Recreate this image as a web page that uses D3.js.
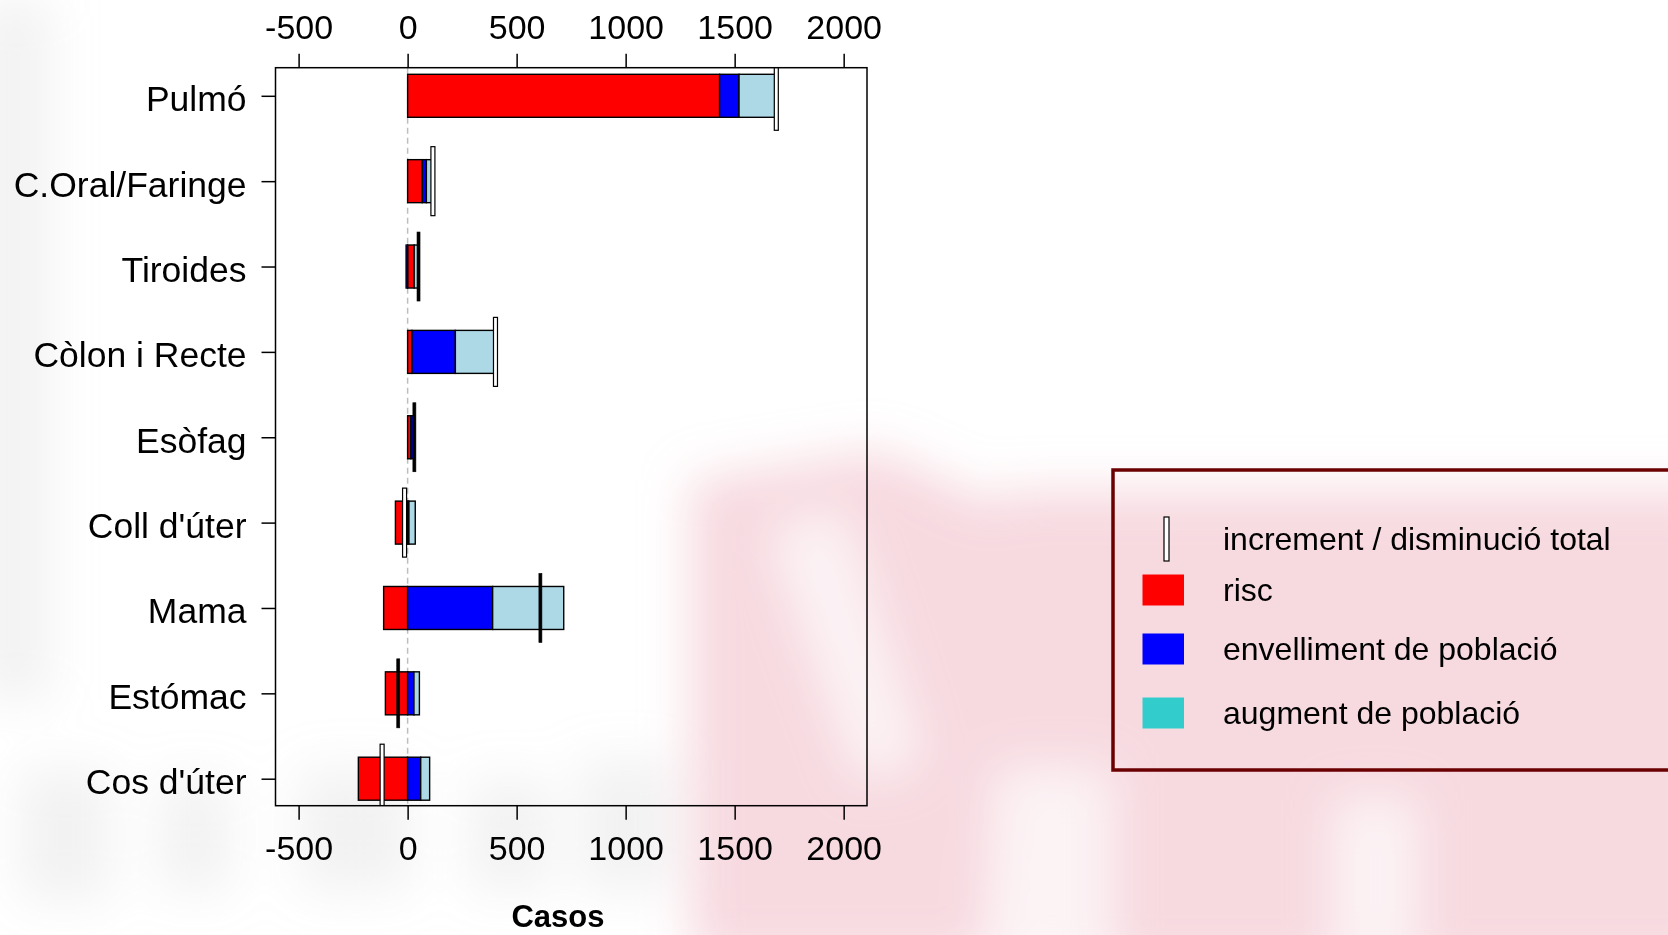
<!DOCTYPE html>
<html>
<head>
<meta charset="utf-8">
<script src="https://cdn.jsdelivr.net/npm/d3@7"></script>
<style>
  body { margin: 0; background: #fff; }
  text { font-family: "Liberation Sans", Arial, sans-serif; fill: #000; }
</style>
</head>
<body>
<svg id="chart"></svg>
<script>
// data
const categories = ["Pulmó", "C.Oral/Faringe", "Tiroides", "Còlon i Recte", "Esòfag",
                    "Coll d'úter", "Mama", "Estómac", "Cos d'úter"]
const risc        = [1431, 67, 30, 20, 15, -56, -110, -102, -226]
const envelliment = [89, 19, -7, 199, 15, 6, 390, 29, 60]
const augment     = [166, 27, 22, 179, 2, 29, 326, 25, 41]
const total       = [1691, 116, 50, 403, 31, -14, 609, -43, -117]
const totalSolid  = [false, false, true, false, true, false, true, true, false]
const xTicks = [-500, 0, 500, 1000, 1500, 2000]
const legendLabels = ["increment / disminució total", "risc", "envelliment de població", "augment de població"]

const width = 1668, height = 935
const panel = {left: 275.5, right: 867, top: 67.7, bottom: 805.7}

const svg = d3.select("#chart")
    .attr("width", width)
    .attr("height", height)

const defs = svg.append("defs")
defs.append("filter").attr("id", "blur")
    .attr("x", "-30%").attr("y", "-30%").attr("width", "160%").attr("height", "160%")
  .append("feGaussianBlur").attr("stdDeviation", 24)
defs.append("clipPath").attr("id", "panel-clip")
  .append("rect")
    .attr("x", panel.left).attr("y", panel.top)
    .attr("width", panel.right - panel.left).attr("height", panel.bottom - panel.top)

// faded background picture
svg.append("rect").attr("width", width).attr("height", height).attr("fill", "#fff")
const bg = svg.append("g").attr("filter", "url(#blur)")
const pink = bg.append("g").attr("fill", "#f0bcc6").attr("opacity", 0.55)
pink.append("path").attr("d", "M690,480 L880,450 L1010,510 L990,960 L690,960 Z")
pink.append("rect").attr("x", 1000).attr("y", 490).attr("width", 720).attr("height", 480)
const holes = bg.append("g").attr("fill", "#fff").attr("opacity", 0.7)
holes.append("rect").attr("x", 1000).attr("y", 770).attr("width", 110).attr("height", 200)
holes.append("rect").attr("x", 1335).attr("y", 800).attr("width", 80).attr("height", 160)
holes.append("path").attr("d", "M770,530 L840,510 L920,760 L860,780 Z")
const grey = bg.append("g").attr("fill", "#cccccc").attr("opacity", 0.25)
grey.append("rect").attr("x", -20).attr("y", 0).attr("width", 70).attr("height", 700)
grey.append("rect").attr("x", 20).attr("y", 770).attr("width", 90).attr("height", 130)
grey.append("rect").attr("x", 160).attr("y", 780).attr("width", 70).attr("height", 110)
grey.append("rect").attr("x", 300).attr("y", 770).attr("width", 110).attr("height", 120)
grey.append("rect").attr("x", 470).attr("y", 780).attr("width", 80).attr("height", 110)
grey.append("rect").attr("x", 580).attr("y", 760).attr("width", 90).attr("height", 130)

const x = d3.scaleLinear()
    .domain([-606, 2107])
    .range([panel.left, panel.right])

const y = d3.scalePoint()
    .domain(categories)
    .range([95.8, 778.7])

const barH = 43, markH = 69

const rows = categories.map((c, i) => ({
  cat: c, risc: risc[i], envelliment: envelliment[i], augment: augment[i],
  total: total[i], solid: totalSolid[i]
}))

const keys = ["risc", "envelliment", "augment"]
const colors = {risc: "#ff0000", envelliment: "#0000ff", augment: "#add8e6"}

const series = d3.stack()
    .keys(keys)
    .offset(d3.stackOffsetDiverging)(rows)

// zero reference line
svg.append("line")
    .attr("x1", x(0)).attr("x2", x(0))
    .attr("y1", panel.top).attr("y2", panel.bottom)
    .attr("stroke", "#bebebe")
    .attr("stroke-width", 1.5)
    .attr("stroke-dasharray", "6,4")

const plot = svg.append("g").attr("clip-path", "url(#panel-clip)")

plot.selectAll("g.series")
  .data(series)
  .join("g")
    .attr("class", "series")
    .attr("fill", d => colors[d.key])
  .selectAll("rect")
  .data(d => d.filter(s => s[1] !== s[0]))
  .join("rect")
    .attr("x", d => x(Math.min(d[0], d[1])))
    .attr("width", d => Math.abs(x(d[1]) - x(d[0])))
    .attr("y", d => y(d.data.cat) - barH / 2)
    .attr("height", barH)
    .attr("stroke", "#000")
    .attr("stroke-width", 1.4)

// total increase / decrease marker
plot.selectAll("rect.total")
  .data(rows)
  .join("rect")
    .attr("class", "total")
    .attr("x", d => x(d.total) - (d.solid ? 1.5 : 2))
    .attr("width", d => d.solid ? 3 : 4)
    .attr("y", d => y(d.cat) - markH / 2)
    .attr("height", markH)
    .attr("fill", d => d.solid ? "#000" : "#fff")
    .attr("stroke", "#000")
    .attr("stroke-width", d => d.solid ? 0.6 : 1.2)

// panel border
svg.append("rect")
    .attr("x", panel.left).attr("y", panel.top)
    .attr("width", panel.right - panel.left).attr("height", panel.bottom - panel.top)
    .attr("fill", "none")
    .attr("stroke", "#000")
    .attr("stroke-width", 1.5)

// axes
const styleAxis = size => g => {
  g.select(".domain").remove()
  g.selectAll(".tick line").attr("stroke", "#000").attr("stroke-width", 1.5)
  g.selectAll(".tick text").attr("font-size", size).attr("fill", "#000")
    .attr("font-family", "Liberation Sans, Arial, sans-serif")
}

svg.append("g")
    .attr("transform", `translate(0,${panel.top})`)
    .call(d3.axisTop(x).tickValues(xTicks).tickFormat(d => String(d)).tickSize(14).tickPadding(15))
    .call(styleAxis(34))

svg.append("g")
    .attr("transform", `translate(0,${panel.bottom})`)
    .call(d3.axisBottom(x).tickValues(xTicks).tickFormat(d => String(d)).tickSize(14).tickPadding(16))
    .call(styleAxis(34))

svg.append("g")
    .attr("transform", `translate(${panel.left},0)`)
    .call(d3.axisLeft(y).tickSize(14).tickPadding(15))
    .call(styleAxis(35.5))
    .call(g => g.selectAll(".tick text").attr("dy", "0.42em"))

svg.append("text")
    .attr("x", 558)
    .attr("y", 916)
    .attr("text-anchor", "middle")
    .attr("dominant-baseline", "central")
    .attr("font-size", 31)
    .attr("font-weight", "bold")
    .text("Casos")

// legend
const legend = svg.append("g")
legend.append("rect")
    .attr("x", 1113).attr("y", 470)
    .attr("width", 600).attr("height", 300)
    .attr("fill", "none")
    .attr("stroke", "#6b0000")
    .attr("stroke-width", 3.5)

const legendY = [539, 590, 649, 713]
const legendFill = [null, "#ff0000", "#0000ff", "#33cccc"]

legend.append("rect")
    .attr("x", 1164).attr("y", legendY[0] - 22)
    .attr("width", 5).attr("height", 44)
    .attr("fill", "#fff").attr("stroke", "#000").attr("stroke-width", 1.2)

legend.selectAll("rect.key")
  .data(legendFill.slice(1))
  .join("rect")
    .attr("class", "key")
    .attr("x", 1142.5)
    .attr("y", (d, i) => legendY[i + 1] - 15.5)
    .attr("width", 41.5)
    .attr("height", 31)
    .attr("fill", d => d)

legend.selectAll("text")
  .data(legendLabels)
  .join("text")
    .attr("x", 1223)
    .attr("y", (d, i) => legendY[i])
    .attr("dominant-baseline", "central")
    .attr("font-size", 32)
    .text(d => d)
</script>
</body>
</html>
